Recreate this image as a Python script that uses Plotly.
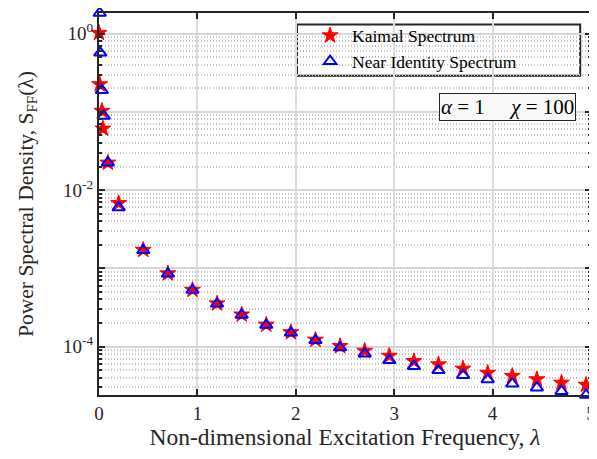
import numpy as np
import plotly.graph_objects as go

# ---- data ----
kaimal_x = [0.0, 0.007, 0.03, 0.04, 0.09, 0.2, 0.45, 0.7, 0.95, 1.2, 1.45, 1.7, 1.95, 2.2,
            2.45, 2.7, 2.95, 3.2, 3.45, 3.7, 3.95, 4.2, 4.45, 4.7, 4.95]
kaimal_y = [1.02, 0.225, 0.103, 0.061, 0.0224, 0.0068, 0.00172, 0.00086, 0.00053, 0.000355,
            0.000256, 0.00019, 0.000152, 0.000122, 1.01e-4, 8.8e-5, 7.6e-5, 6.5e-5, 5.9e-5,
            5.2e-5, 4.6e-5, 4.2e-5, 3.8e-5, 3.44e-5, 3.23e-5]
near_x = [0.007, 0.013, 0.03, 0.048, 0.09, 0.2, 0.45, 0.7, 0.95, 1.2, 1.45, 1.7, 1.95, 2.2,
          2.45, 2.7, 2.95, 3.2, 3.45, 3.7, 3.95, 4.2, 4.45, 4.7, 4.95]
near_y = [1.84, 0.57, 0.189, 0.0887, 0.0224, 0.006, 0.0017, 0.00085, 0.000527, 0.000352,
          0.000253, 0.000188, 0.00015, 0.00012, 9.7e-5, 8.1e-5, 6.7e-5, 5.6e-5, 4.97e-5,
          4.3e-5, 3.8e-5, 3.35e-5, 2.98e-5, 2.69e-5, 2.4e-5]

x_ticks = [0, 1, 2, 3, 4, 5]
y_major = [1e-4, 1e-3, 1e-2, 1e-1, 1e0]
y_labels = ["10<sup>-4</sup>", "", "10<sup>-2</sup>", "", "10<sup>0</sup>"]

FONT = "Liberation Serif"
AX = "#262626"

fig = go.Figure()
fig.add_trace(go.Scatter(
    x=kaimal_x, y=kaimal_y, mode="markers", name="Kaimal Spectrum", cliponaxis=False,
    marker=dict(symbol="star", size=12, color="#ff0000", line=dict(color="#ff0000", width=1)),
))
fig.add_trace(go.Scatter(
    x=near_x, y=near_y, mode="markers", name="Near Identity Spectrum", cliponaxis=False,
    marker=dict(symbol="triangle-up-open", size=11, color="#0000ff", line=dict(color="#0000ff", width=2)),
))

all_y = kaimal_y + near_y
y_lo, y_hi = np.log10(min(all_y)), np.log10(max(all_y))
minor_vals = [m * 10.0 ** e for e in range(-5, 1) for m in range(2, 10)]

# the page body adds an 8 px offset; margins are set so the plot area lands where the reference has it
fig.update_layout(
    width=597, height=459,
    margin=dict(l=91, r=14, t=5, b=72),
    paper_bgcolor="white", plot_bgcolor="white",
    font=dict(family=FONT, size=18, color=AX),
    showlegend=True,
    legend=dict(
        x=0.425, y=0.988, xanchor="left", yanchor="top",
        bgcolor="rgba(0,0,0,0)", borderwidth=0,
        font=dict(family=FONT, size=17.5, color="black"),
        tracegroupgap=0, itemsizing="trace", itemwidth=34,
    ),
    xaxis=dict(
        range=[0, 5], tickvals=x_ticks, ticks="inside", ticklen=6, tickwidth=2,
        tickcolor=AX, showline=True, linecolor=AX, linewidth=2, mirror="ticks",
        showgrid=True, gridcolor="#dddddd", gridwidth=1.5, zeroline=False, automargin=False,
        tickfont=dict(family=FONT, size=19, color=AX),
        title=dict(text="Non-dimensional Excitation Frequency, <i>λ</i>",
                   font=dict(family=FONT, size=23.5, color=AX), standoff=3),
    ),
    yaxis=dict(
        type="log", range=[y_lo, y_hi], tickvals=y_major, ticktext=y_labels,
        ticks="inside", ticklen=6, tickwidth=2, tickcolor=AX,
        showline=True, linecolor=AX, linewidth=2, mirror="ticks",
        showgrid=True, gridcolor="#d6d6d6", gridwidth=1.5, zeroline=False, automargin=False,
        tickfont=dict(family=FONT, size=19, color=AX),
        minor=dict(tickvals=minor_vals, ticks="inside", ticklen=3, tickcolor=AX,
                   showgrid=True, gridcolor="#c6c6c6", griddash="1px,2px", gridwidth=1.5),
        title=dict(text="Power Spectral Density, S<sub>FF</sub>(λ)",
                   font=dict(family=FONT, size=21.5, color=AX), standoff=24),
    ),
)

# legend box
fig.add_shape(type="rect", xref="paper", yref="paper",
              x0=0.4024, x1=0.978, y0=0.836, y1=0.970,
              line=dict(color=AX, width=2), fillcolor="white", layer="below")

# parameter box
fig.add_annotation(
    xref="paper", yref="paper", x=0.9695, y=0.7546, xanchor="right", yanchor="middle",
    text="<i>α</i> = 1&nbsp;&nbsp;&nbsp;&nbsp;&nbsp;<i>χ</i> = 100", showarrow=False,
    font=dict(family=FONT, size=21, color="black"),
    bgcolor="#f8f8f8", bordercolor=AX, borderwidth=1, borderpad=1,
)

fig.write_html("out.html")
